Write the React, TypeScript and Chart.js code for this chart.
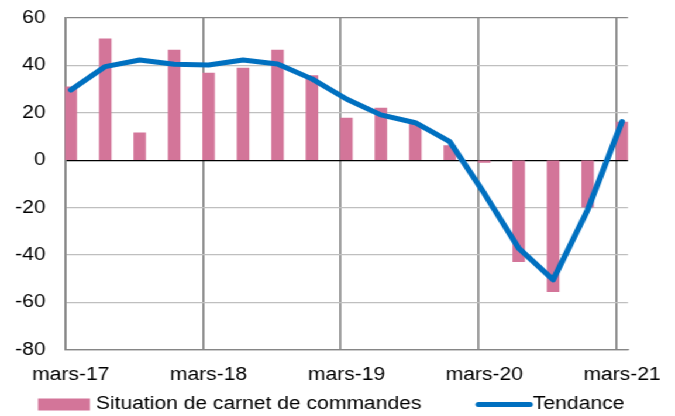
import React, { useEffect, useRef } from 'react';
import { Chart, registerables } from 'chart.js';

Chart.register(...registerables);

// Quarterly categories (data positions on the x axis are their indices)
const QUARTERS = [
  'mars-17', 'juin-17', 'sept-17', 'déc-17',
  'mars-18', 'juin-18', 'sept-18', 'déc-18',
  'mars-19', 'juin-19', 'sept-19', 'déc-19',
  'mars-20', 'juin-20', 'sept-20', 'déc-20',
  'mars-21',
];

// Series values
const CARNET = [31, 51.2, 11.5, 46.5, 36.7, 38.9, 46.5, 35.7, 17.8, 22, 15.5, 6.1, -1, -42.8, -55.5, -19.8, 16.1];
const TENDANCE = [29.6, 39.5, 42.3, 40.5, 40.2, 42.3, 40.6, 34.3, 25.8, 19.1, 15.8, 7.8, -14, -37.2, -50.5, -21, 16.3];

// Axis labels
const TICK_LABELS = ['mars-17', 'mars-18', 'mars-19', 'mars-20', 'mars-21'];
const Y_MIN = -80;
const Y_MAX = 60;
const Y_STEP = 20;

const SERIES_NAMES = ['Situation de carnet de commandes', 'Tendance'];

const W = 577;
const H = 416;
const STRETCH = 675 / W;

const PINK = '#D37599';
const BLUE = '#0070C0';
const FONT = { family: '"Liberation Sans", Arial, sans-serif', size: 18 };

const legendPlugin = {
  id: 'customLegend',
  afterDraw(chart: any) {
    const ctx = chart.ctx;
    ctx.save();
    const y = 404.5;
    ctx.font = `${FONT.size}px ${FONT.family}`;
    ctx.textBaseline = 'middle';
    ctx.textAlign = 'left';
    ctx.fillStyle = PINK;
    ctx.fillRect(32.5, y - 6, 44.4, 12);
    ctx.fillStyle = '#000';
    ctx.fillText(SERIES_NAMES[0], 82, y);
    ctx.strokeStyle = BLUE;
    ctx.lineWidth = 5;
    ctx.lineCap = 'round';
    ctx.beginPath();
    ctx.moveTo(409, y);
    ctx.lineTo(453, y);
    ctx.stroke();
    ctx.fillText(SERIES_NAMES[1], 455.6, y);
    ctx.restore();
  },
};

export default function App() {
  const ref = useRef<HTMLCanvasElement>(null);

  useEffect(() => {
    if (!ref.current) return;
    const tickPositions = TICK_LABELS.map((l) => QUARTERS.indexOf(l));
    const chart = new Chart(ref.current, {
      type: 'bar',
      data: {
        datasets: [
          {
            type: 'line',
            label: SERIES_NAMES[1],
            data: TENDANCE.map((y, i) => ({ x: i, y })),
            borderColor: BLUE,
            backgroundColor: BLUE,
            borderWidth: 5,
            pointRadius: 0,
            tension: 0,
            borderCapStyle: 'round',
            borderJoinStyle: 'round',
            xAxisID: 'x',
            yAxisID: 'y',
            order: 0,
          } as any,
          {
            type: 'bar',
            label: SERIES_NAMES[0],
            data: CARNET.map((y, i) => ({ x: i, y })),
            backgroundColor: PINK,
            barThickness: 10,
            xAxisID: 'x',
            yAxisID: 'y',
            order: 1,
          } as any,
        ],
      },
      options: {
        animation: false,
        responsive: false,
        devicePixelRatio: 1,
        layout: { padding: { top: 18, right: 40.2, bottom: 30, left: 0 } },
        plugins: {
          legend: { display: false },
          tooltip: { enabled: false },
        },
        scales: {
          x: {
            type: 'linear',
            display: false,
            offset: false,
            grid: { offset: false },
            min: -0.168,
            max: QUARTERS.length - 1 + 0.172,
          },
          xg: {
            type: 'linear',
            position: 'bottom',
            offset: false,
            min: 0,
            max: QUARTERS.length - 1 + 0.34,
            afterBuildTicks: (s: any) => {
              s.ticks = tickPositions.map((v) => ({ value: v }));
            },
            afterFit: (s: any) => {
              s.height = 36.3;
              s.paddingLeft = 0;
              s.paddingRight = 0;
            },
            ticks: {
              autoSkip: false,
              maxRotation: 0,
              padding: 15,
              labelOffset: 5,
              color: '#000',
              font: FONT,
              callback: (v: any) => QUARTERS[v as number],
            },
            grid: { offset: false, color: '#868686', lineWidth: 1.7, drawTicks: false },
            border: { color: '#868686', width: 1.3 },
          },
          y: {
            type: 'linear',
            min: Y_MIN,
            max: Y_MAX,
            afterFit: (s: any) => {
              s.width = 55.56;
              s.paddingTop = 0;
              s.paddingBottom = 0;
            },
            ticks: {
              stepSize: Y_STEP,
              padding: 16.5,
              color: '#000',
              font: FONT,
            },
            grid: {
              drawTicks: false,
              color: (c: any) => {
                const v = c.tick && c.tick.value;
                if (v === 0) return '#000000';
                if (v === Y_MAX || v === Y_MIN) return '#868686';
                return '#BFBFBF';
              },
              lineWidth: (c: any) => (c.tick && c.tick.value === 0 ? 1.2 : 1.3),
            },
            border: { color: '#868686', width: 1.7 },
          },
        },
      } as any,
      plugins: [legendPlugin],
    });
    return () => chart.destroy();
  }, []);

  return (
    <div
      style={{
        position: 'absolute',
        left: 0,
        top: 0,
        width: W,
        height: H,
        transform: `scaleX(${STRETCH})`,
        transformOrigin: 'left top',
        background: '#fff',
      }}
    >
      <canvas ref={ref} width={W} height={H} style={{ display: 'block' }} />
    </div>
  );
}
